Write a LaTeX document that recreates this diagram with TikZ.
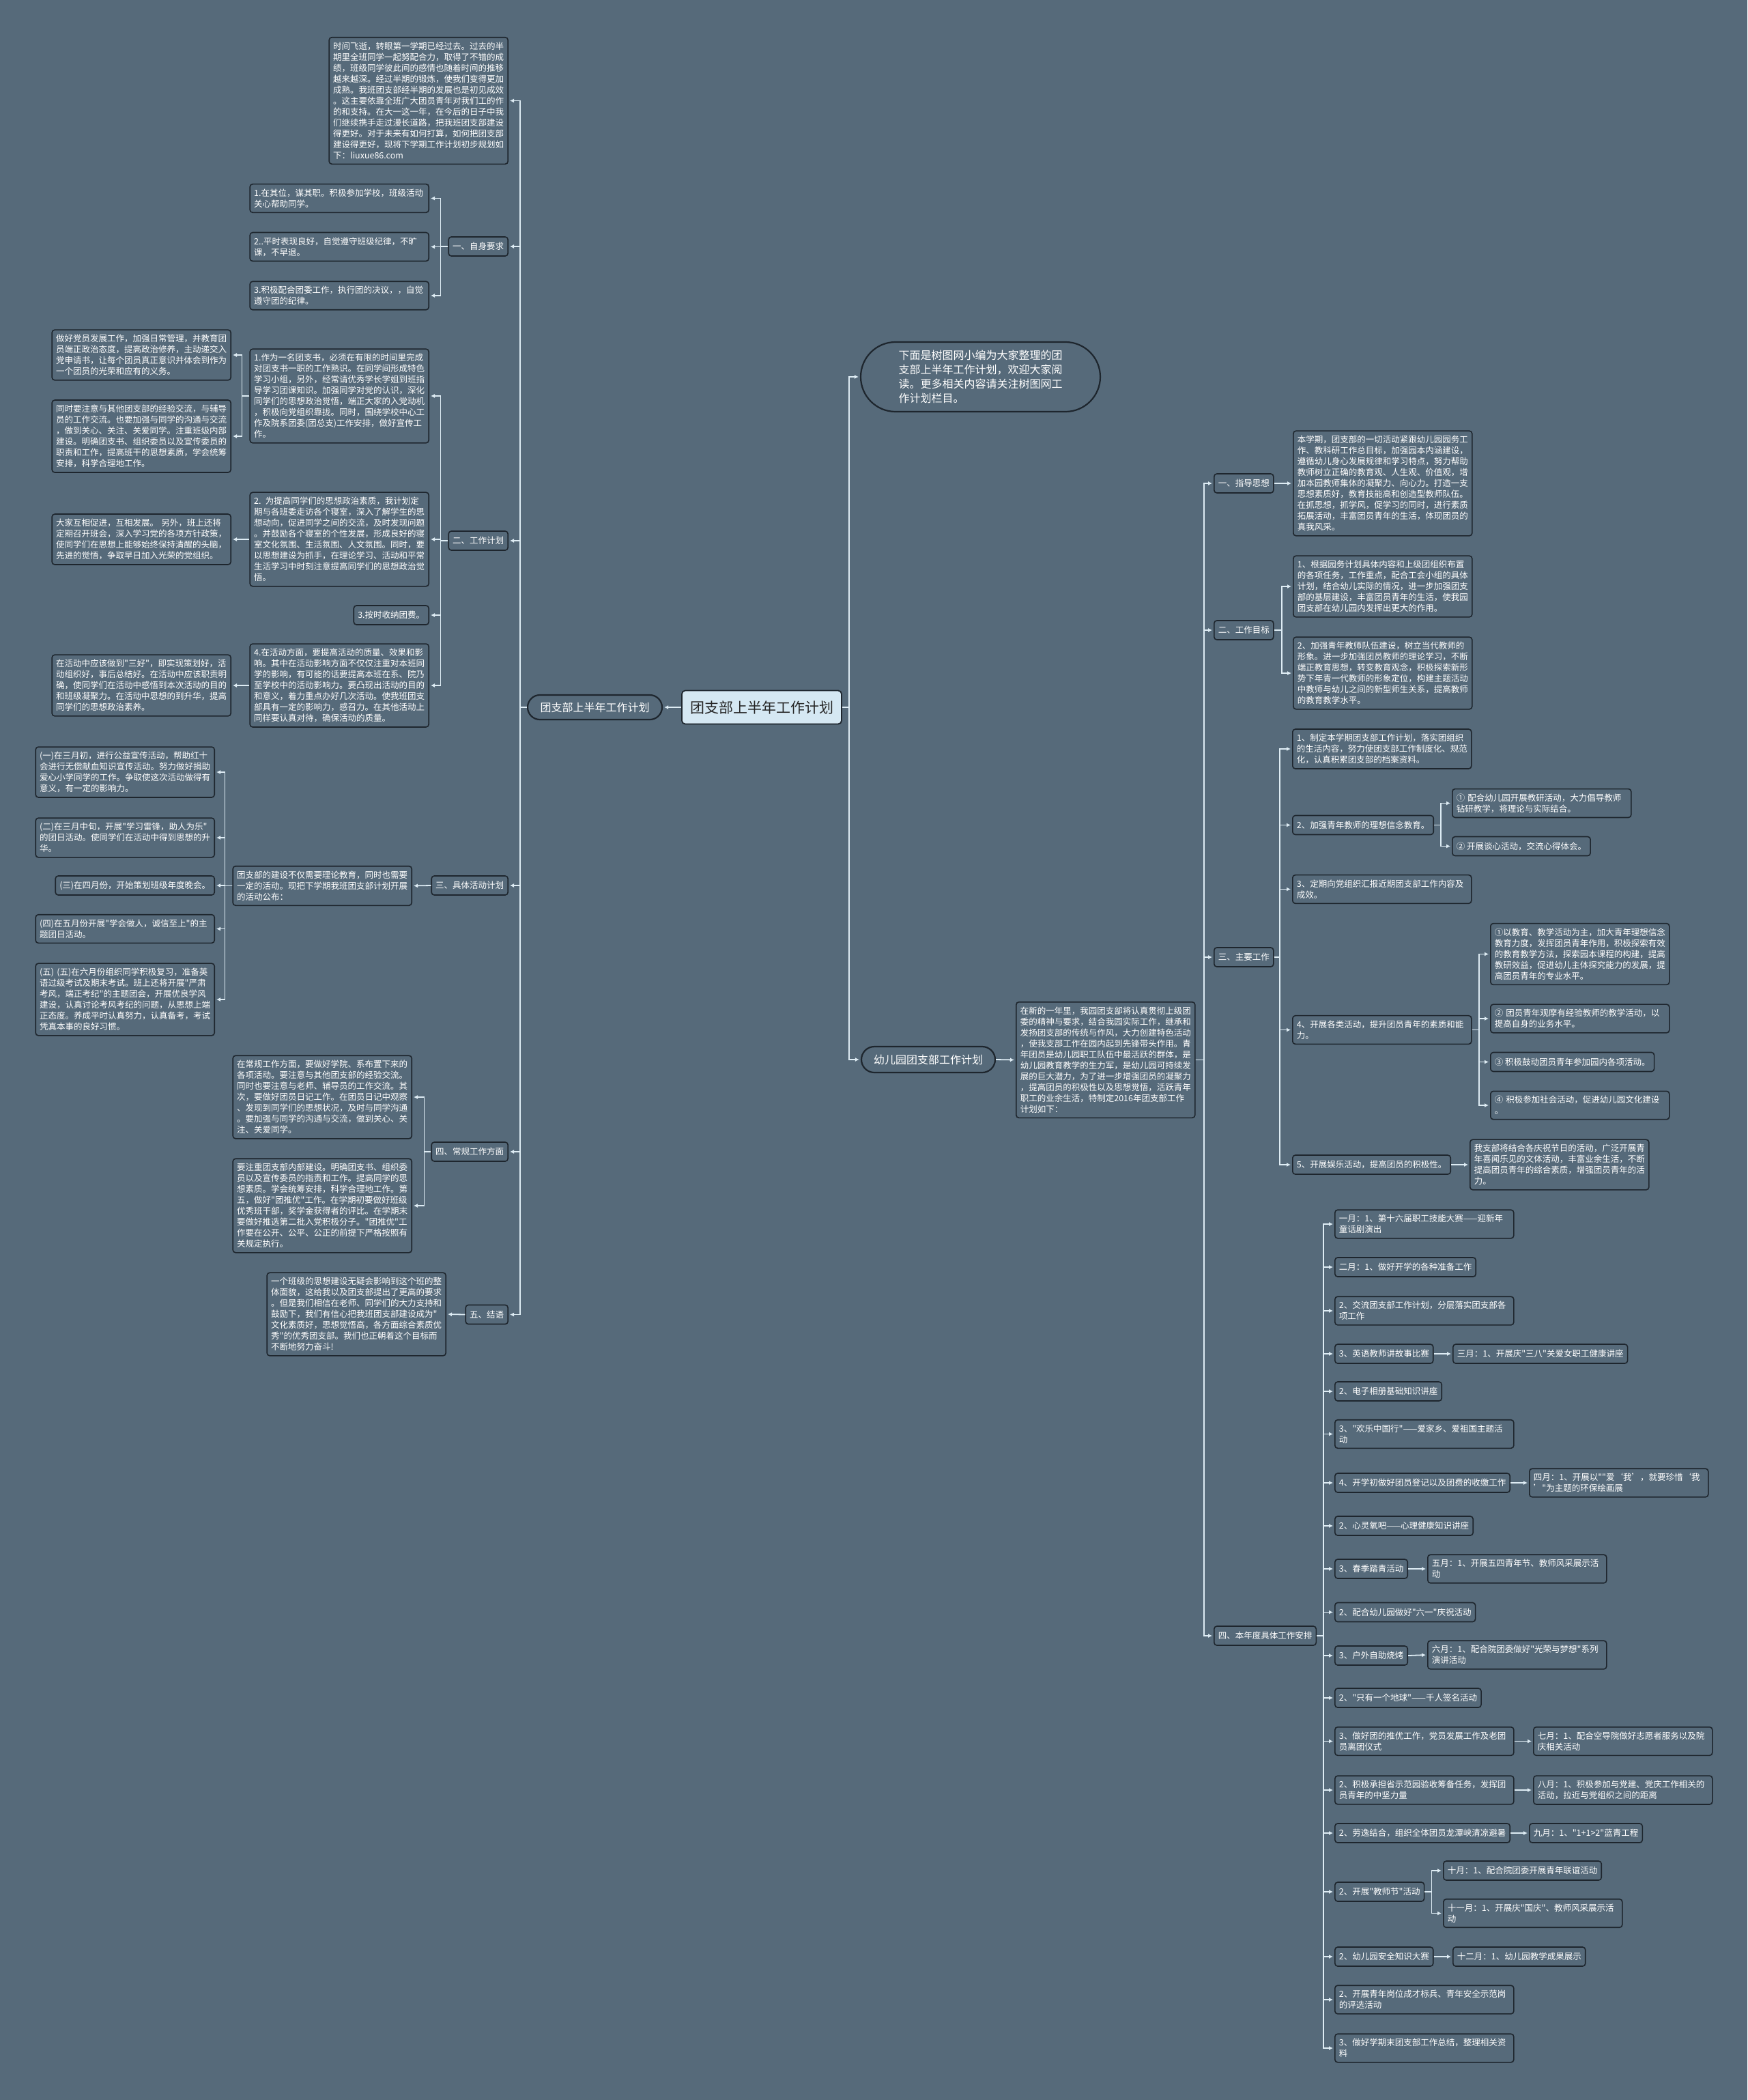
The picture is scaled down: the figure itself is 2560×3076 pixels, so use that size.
\documentclass[tikz,border=0pt]{standalone}
\usepackage{fontspec}
\newfontfamily\cjk{Noto Sans CJK SC}
\usepackage{xcolor}
\usepackage{tikz}
\usetikzlibrary{arrows.meta}

\definecolor{bgc}{RGB}{86,106,122}
\definecolor{edgec}{RGB}{30,38,46}
\definecolor{linkc}{RGB}{222,236,244}
\definecolor{rootc}{RGB}{213,232,243}

\begin{document}
\begin{tikzpicture}[
    x=1pt, y=-1pt,
    box/.style={rectangle, draw=edgec, line width=1.6pt, fill=bgc, rounded corners=4pt, text=white, font=\cjk\fontsize{12.5}{16}\selectfont, inner xsep=6pt, inner ysep=7pt},
    item/.style={box, minimum height=28pt},
    para/.style={box, text width=250pt, align=left},
    pill/.style={rectangle, draw=edgec, line width=2.2pt, fill=bgc, text=white, font=\cjk\fontsize{16}{21}\selectfont},
    root/.style={rectangle, draw=edgec, line width=1.8pt, fill=rootc, text=black!85, rounded corners=5pt, font=\cjk\fontsize{21}{25}\selectfont, minimum width=234pt, minimum height=49pt},
    arrow/.style={-{Latex[length=6pt,width=6pt]}, draw=linkc, line width=1.8pt, shorten >=2pt}
]
    \fill[bgc] (0,0) rectangle (2560,3076);
    \useasboundingbox (0,0) rectangle (2560,3076);

    % Raiz
    \node[root] (root) at (1116,1036) {团支部上半年工作计划};
    \node[pill, minimum width=197pt, minimum height=36pt, rounded corners=18pt] (left) at (871.5,1036) {团支部上半年工作计划};

    % Izquierda
    \node[para, anchor=east] (lintro) at (745,147.5) {时间飞逝，转眼第一学期已经过去。过去的半\\期里全班同学一起努配合力，取得了不错的成\\绩，班级同学彼此间的感情也随着时间的推移\\越来越深。经过半期的锻炼，使我们变得更加\\成熟。我班团支部经半期的发展也是初见成效\\。这主要依靠全班广大团员青年对我们工的作\\的和支持。在大一这一年，在今后的日子中我\\们继续携手走过漫长道路，把我班团支部建设\\得更好。对于未来有如何打算，如何把团支部\\建设得更好，现将下学期工作计划初步规划如\\下：liuxue86.com};

    \node[item, anchor=east] (req) at (745,361) {一、自身要求};
    \node[para, anchor=east] (req1) at (629,290.5) {1.在其位，谋其职。积极参加学校，班级活动\\关心帮助同学。};
    \node[para, anchor=east] (req2) at (629,361.5) {2..平时表现良好，自觉遵守班级纪律，不旷\\课，不早退。};
    \node[para, anchor=east] (req3) at (629,433) {3.积极配合团委工作，执行团的决议，，自觉\\遵守团的纪律。};

    \node[item, anchor=east] (plan) at (745,792) {二、工作计划};
    \node[para, anchor=east] (plan1) at (629,580) {1.作为一名团支书，必须在有限的时间里完成\\对团支书一职的工作熟识。在同学间形成特色\\学习小组，另外，经常请优秀学长学姐到班指\\导学习团课知识。加强同学对党的认识，深化\\同学们的思想政治觉悟，端正大家的入党动机\\，积极向党组织靠拢。同时，围绕学校中心工\\作及院系团委(团总支)工作安排，做好宣传工\\作。};
    \node[para, anchor=east] (plan2) at (629,790) {2. 为提高同学们的思想政治素质，我计划定\\期与各班委走访各个寝室，深入了解学生的思\\想动向，促进同学之间的交流，及时发现问题\\。并鼓励各个寝室的个性发展，形成良好的寝\\室文化氛围、生活氛围、人文氛围。同时，要\\以思想建设为抓手，在理论学习、活动和平常\\生活学习中时刻注意提高同学们的思想政治觉\\悟。};
    \node[item, anchor=east] (plan3) at (629,901) {3.按时收纳团费。};
    \node[para, anchor=east] (plan4) at (629,1004) {4.在活动方面，要提高活动的质量、效果和影\\响。其中在活动影响方面不仅仅注重对本班同\\学的影响，有可能的话要提高本班在系、院乃\\至学校中的活动影响力。要凸现出活动的目的\\和意义，着力重点办好几次活动。使我班团支\\部具有一定的影响力，感召力。在其他活动上\\同样要认真对待，确保活动的质量。};
    \node[para, anchor=east] (plan1a) at (339,520) {做好党员发展工作，加强日常管理，并教育团\\员端正政治态度，提高政治修养，主动递交入\\党申请书，让每个团员真正意识并体会到作为\\一个团员的光荣和应有的义务。};
    \node[para, anchor=east] (plan1b) at (339,639) {同时要注意与其他团支部的经验交流，与辅导\\员的工作交流。也要加强与同学的沟通与交流\\，做到关心、关注、关爱同学。注重班级内部\\建设。明确团支书、组织委员以及宣传委员的\\职责和工作，提高班干的思想素质，学会统筹\\安排，科学合理地工作。};
    \node[para, anchor=east] (plan2a) at (339,790) {大家互相促进，互相发展。 另外，班上还将\\定期召开班会，深入学习党的各项方针政策，\\使同学们在思想上能够始终保持清醒的头脑，\\先进的觉悟，争取早日加入光荣的党组织。};
    \node[para, anchor=east] (plan4a) at (339,1004) {在活动中应该做到"三好"，即实现策划好，活\\动组织好，事后总结好。在活动中应该职责明\\确，使同学们在活动中感悟到本次活动的目的\\和班级凝聚力。在活动中思想的到升华，提高\\同学们的思想政治素养。};

    \node[item, anchor=east] (act) at (745,1297) {三、具体活动计划};
    \node[para, anchor=east] (actm) at (604,1297.5) {团支部的建设不仅需要理论教育，同时也需要\\一定的活动。现把下学期我班团支部计划开展\\的活动公布：};
    \node[para, anchor=east] (act1) at (315,1131) {(一)在三月初，进行公益宣传活动，帮助红十\\会进行无偿献血知识宣传活动。努力做好捐助\\爱心小学同学的工作。争取使这次活动做得有\\意义，有一定的影响力。};
    \node[para, anchor=east] (act2) at (315,1227) {(二)在三月中旬，开展"学习雷锋，助人为乐"\\的团日活动。使同学们在活动中得到思想的升\\华。};
    \node[item, anchor=east] (act3) at (315,1297) {(三)在四月份，开始策划班级年度晚会。};
    \node[para, anchor=east] (act4) at (315,1360.5) {(四)在五月份开展"学会做人，诚信至上"的主\\题团日活动。};
    \node[para, anchor=east] (act5) at (315,1464) {(五) (五)在六月份组织同学积极复习，准备英\\语过级考试及期末考试。班上还将开展"严肃\\考风，端正考纪"的主题团会，开展优良学风\\建设，认真讨论考风考纪的问题，从思想上端\\正态度。养成平时认真努力，认真备考，考试\\凭真本事的良好习惯。};

    \node[item, anchor=east] (rout) at (745,1687) {四、常规工作方面};
    \node[para, anchor=east] (rout1) at (604,1607) {在常规工作方面，要做好学院、系布置下来的\\各项活动。要注意与其他团支部的经验交流。\\同时也要注意与老师、辅导员的工作交流。其\\次，要做好团员日记工作。在团员日记中观察\\、发现到同学们的思想状况，及时与同学沟通\\。要加强与同学的沟通与交流，做到关心、关\\注、关爱同学。};
    \node[para, anchor=east] (rout2) at (604,1766) {要注重团支部内部建设。明确团支书、组织委\\员以及宣传委员的指责和工作。提高同学的思\\想素质。学会统筹安排，科学合理地工作。第\\五，做好"团推优"工作。在学期初要做好班级\\优秀班干部，奖学金获得者的评比。在学期末\\要做好推选第二批入党积极分子。"团推优"工\\作要在公开、公平、公正的前提下严格按照有\\关规定执行。};

    \node[item, anchor=east] (conc) at (745,1925.5) {五、结语};
    \node[para, anchor=east] (conc1) at (654,1925) {一个班级的思想建设无疑会影响到这个班的整\\体面貌，这给我以及团支部提出了更高的要求\\。但是我们相信在老师、同学们的大力支持和\\鼓励下，我们有信心把我班团支部建设成为"\\文化素质好，思想觉悟高，各方面综合素质优\\秀"的优秀团支部。我们也正朝着这个目标而\\不断地努力奋斗!};

    % Derecha
    \node[pill, minimum width=351pt, minimum height=102pt, rounded corners=51pt, align=left] (rintro) at (1436.5,552) {下面是树图网小编为大家整理的团\\支部上半年工作计划，欢迎大家阅\\读。更多相关内容请关注树图网工\\作计划栏目。};
    \node[pill, minimum width=196pt, minimum height=38pt, rounded corners=19pt] (kpill) at (1360,1552) {幼儿园团支部工作计划};
    \node[para, anchor=west] (desc) at (1488,1552.5) {在新的一年里，我园团支部将认真贯彻上级团\\委的精神与要求，结合我园实际工作，继承和\\发扬团支部的传统与作风，大力创建特色活动\\，使我支部工作在园内起到先锋带头作用。青\\年团员是幼儿园职工队伍中最活跃的群体，是\\幼儿园教育教学的生力军，是幼儿园可持续发\\展的巨大潜力，为了进一步增强团员的凝聚力\\，提高团员的积极性以及思想觉悟，活跃青年\\职工的业余生活，特制定2016年团支部工作\\计划如下：};

    \node[item, anchor=west] (guide) at (1778,708) {一、指导思想};
    \node[para, anchor=west] (guide1) at (1894,708) {本学期，团支部的一切活动紧跟幼儿园园务工\\作、教科研工作总目标，加强园本内涵建设，\\遵循幼儿身心发展规律和学习特点，努力帮助\\教师树立正确的教育观、人生观、价值观，增\\加本园教师集体的凝聚力、向心力。打造一支\\思想素质好，教育技能高和创造型教师队伍。\\在抓思想，抓学风，促学习的同时，进行素质\\拓展活动，丰富团员青年的生活，体现团员的\\真我风采。};

    \node[item, anchor=west] (goal) at (1778,923) {二、工作目标};
    \node[para, anchor=west] (goal1) at (1894,859) {1、根据园务计划具体内容和上级团组织布置\\的各项任务，工作重点，配合工会小组的具体\\计划，结合幼儿实际的情况，进一步加强团支\\部的基层建设，丰富团员青年的生活，使我园\\团支部在幼儿园内发挥出更大的作用。};
    \node[para, anchor=west] (goal2) at (1894,986) {2、加强青年教师队伍建设，树立当代教师的\\形象。进一步加强团员教师的理论学习，不断\\端正教育思想，转变教育观念，积极探索新形\\势下年青一代教师的形象定位，构建主题活动\\中教师与幼儿之间的新型师生关系，提高教师\\的教育教学水平。};

    \node[item, anchor=west] (work) at (1778,1402) {三、主要工作};
    \node[para, anchor=west] (work1) at (1893,1097) {1、制定本学期团支部工作计划，落实团组织\\的生活内容，努力使团支部工作制度化、规范\\化，认真积累团支部的档案资料。};
    \node[item, anchor=west] (work2) at (1893,1208.5) {2、加强青年教师的理想信念教育。};
    \node[para, anchor=west] (work2a) at (2127,1176.5) {① 配合幼儿园开展教研活动，大力倡导教师\\钻研教学，将理论与实际结合。};
    \node[item, anchor=west] (work2b) at (2127,1239.5) {② 开展谈心活动，交流心得体会。};
    \node[para, anchor=west] (work3) at (1893,1302.5) {3、定期向党组织汇报近期团支部工作内容及\\成效。};
    \node[para, anchor=west] (work4) at (1893,1508.5) {4、开展各类活动，提升团员青年的素质和能\\力。};
    \node[para, anchor=west] (work4a) at (2183,1397.5) {①以教育、教学活动为主，加大青年理想信念\\教育力度，发挥团员青年作用，积极探索有效\\的教育教学方法，探索园本课程的构建，提高\\教研效益，促进幼儿主体探究能力的发展，提\\高团员青年的专业水平。};
    \node[para, anchor=west] (work4b) at (2183,1492) {② 团员青年观摩有经验教师的教学活动，以\\提高自身的业务水平。};
    \node[item, anchor=west] (work4c) at (2183,1555.5) {③ 积极鼓动团员青年参加园内各项活动。};
    \node[para, anchor=west] (work4d) at (2183,1619) {④ 积极参加社会活动，促进幼儿园文化建设\\。};
    \node[item, anchor=west] (work5) at (1893,1706) {5、开展娱乐活动，提高团员的积极性。};
    \node[para, anchor=west] (work5a) at (2153,1706) {我支部将结合各庆祝节日的活动，广泛开展青\\年喜闻乐见的文体活动，丰富业余生活，不断\\提高团员青年的综合素质，增强团员青年的活\\力。};

    \node[item, anchor=west] (year) at (1778,2396) {四、本年度具体工作安排};
    \node[para, anchor=west] (mo1) at (1955,1793) {一月：1、第十六届职工技能大赛——迎新年\\童话剧演出};
    \node[item, anchor=west] (mo2) at (1955,1856) {二月：1、做好开学的各种准备工作};
    \node[para, anchor=west] (mo3) at (1955,1920) {2、交流团支部工作计划，分层落实团支部各\\项工作};
    \node[item, anchor=west] (mo4) at (1955,1983) {3、英语教师讲故事比赛};
    \node[item, anchor=west] (mar) at (2128,1983) {三月：1、开展庆"三八"关爱女职工健康讲座};
    \node[item, anchor=west] (mo5) at (1955,2038) {2、电子相册基础知识讲座};
    \node[para, anchor=west] (mo6) at (1955,2100.5) {3、"欢乐中国行"——爱家乡、爱祖国主题活\\动};
    \node[item, anchor=west] (mo7) at (1955,2172) {4、开学初做好团员登记以及团费的收缴工作};
    \node[para, anchor=west] (apr) at (2240,2172) {四月：1、开展以""爱‘我’，就要珍惜‘我\\’"为主题的环保绘画展};
    \node[item, anchor=west] (mo8) at (1955,2235) {2、心灵氧吧——心理健康知识讲座};
    \node[item, anchor=west] (mo9) at (1955,2298) {3、春季踏青活动};
    \node[para, anchor=west] (may) at (2091,2298) {五月：1、开展五四青年节、教师风采展示活\\动};
    \node[item, anchor=west] (mo10) at (1955,2361.5) {2、配合幼儿园做好"六一"庆祝活动};
    \node[item, anchor=west] (mo11) at (1955,2425) {3、户外自助烧烤};
    \node[para, anchor=west] (jun) at (2091,2424) {六月：1、配合院团委做好"光荣与梦想"系列\\演讲活动};
    \node[item, anchor=west] (mo12) at (1955,2487) {2、"只有一个地球"——千人签名活动};
    \node[para, anchor=west] (mo13) at (1955,2550.5) {3、做好团的推优工作，党员发展工作及老团\\员离团仪式};
    \node[para, anchor=west] (jul) at (2246,2550.5) {七月：1、配合空导院做好志愿者服务以及院\\庆相关活动};
    \node[para, anchor=west] (mo14) at (1955,2622) {2、积极承担省示范园验收筹备任务，发挥团\\员青年的中坚力量};
    \node[para, anchor=west] (aug) at (2246,2622) {八月：1、积极参加与党建、党庆工作相关的\\活动，拉近与党组织之间的距离};
    \node[item, anchor=west] (mo15) at (1955,2685) {2、劳逸结合，组织全体团员龙潭峡清凉避暑};
    \node[item, anchor=west] (sep) at (2240,2685) {九月：1、"1+1>2"蓝青工程};
    \node[item, anchor=west] (mo16) at (1955,2771) {2、开展"教师节"活动};
    \node[item, anchor=west] (oct) at (2114,2740) {十月：1、配合院团委开展青年联谊活动};
    \node[para, anchor=west] (nov) at (2114,2802.5) {十一月：1、开展庆"国庆"、教师风采展示活\\动};
    \node[item, anchor=west] (mo17) at (1955,2866) {2、幼儿园安全知识大赛};
    \node[item, anchor=west] (dec) at (2128,2866) {十二月：1、幼儿园教学成果展示};
    \node[para, anchor=west] (mo18) at (1955,2929) {2、开展青年岗位成才标兵、青年安全示范岗\\的评选活动};
    \node[para, anchor=west] (mo19) at (1955,3000) {3、做好学期末团支部工作总结，整理相关资\\料};

    % Flechas izquierda
    \draw[arrow] (root.west) -- (left.east);
    \draw[arrow] (left.west) -- ++(-10,0) |- (lintro.east);
    \draw[arrow] (left.west) -- ++(-10,0) |- (req.east);
    \draw[arrow] (left.west) -- ++(-10,0) |- (plan.east);
    \draw[arrow] (left.west) -- ++(-10,0) |- (act.east);
    \draw[arrow] (left.west) -- ++(-10,0) |- (rout.east);
    \draw[arrow] (left.west) -- ++(-10,0) |- (conc.east);
    \draw[arrow] (req.west) -- ++(-11,0) |- (req1.east);
    \draw[arrow] (req.west) -- ++(-11,0) |- (req2.east);
    \draw[arrow] (req.west) -- ++(-11,0) |- (req3.east);
    \draw[arrow] (plan.west) -- ++(-11,0) |- (plan1.east);
    \draw[arrow] (plan.west) -- ++(-11,0) |- (plan2.east);
    \draw[arrow] (plan.west) -- ++(-11,0) |- (plan3.east);
    \draw[arrow] (plan.west) -- ++(-11,0) |- (plan4.east);
    \draw[arrow] (plan1.west) -- ++(-11,0) |- (plan1a.east);
    \draw[arrow] (plan1.west) -- ++(-11,0) |- (plan1b.east);
    \draw[arrow] (plan2.west) -- (plan2a.east);
    \draw[arrow] (plan4.west) -- (plan4a.east);
    \draw[arrow] (act.west) -- (actm.east);
    \draw[arrow] (actm.west) -- ++(-11,0) |- (act1.east);
    \draw[arrow] (actm.west) -- ++(-11,0) |- (act2.east);
    \draw[arrow] (actm.west) -- ++(-11,0) |- (act3.east);
    \draw[arrow] (actm.west) -- ++(-11,0) |- (act4.east);
    \draw[arrow] (actm.west) -- ++(-11,0) |- (act5.east);
    \draw[arrow] (rout.west) -- ++(-10,0) |- (rout1.east);
    \draw[arrow] (rout.west) -- ++(-10,0) |- (rout2.east);
    \draw[arrow] (conc.west) -- (conc1.east);

    % Flechas derecha
    \draw[arrow] (root.east) -- ++(10,0) |- (rintro.west);
    \draw[arrow] (root.east) -- ++(10,0) |- (kpill.west);
    \draw[arrow] (kpill.east) -- (desc.west);
    \draw[arrow] (desc.east) -- ++(12,0) |- (guide.west);
    \draw[arrow] (desc.east) -- ++(12,0) |- (goal.west);
    \draw[arrow] (desc.east) -- ++(12,0) |- (work.west);
    \draw[arrow] (desc.east) -- ++(12,0) |- (year.west);
    \draw[arrow] (guide.east) -- (guide1.west);
    \draw[arrow] (goal.east) -- ++(11,0) |- (goal1.west);
    \draw[arrow] (goal.east) -- ++(11,0) |- (goal2.west);
    \draw[arrow] (work.east) -- ++(8,0) |- (work1.west);
    \draw[arrow] (work.east) -- ++(8,0) |- (work2.west);
    \draw[arrow] (work.east) -- ++(8,0) |- (work3.west);
    \draw[arrow] (work.east) -- ++(8,0) |- (work4.west);
    \draw[arrow] (work.east) -- ++(8,0) |- (work5.west);
    \draw[arrow] (work2.east) -- ++(10,0) |- (work2a.west);
    \draw[arrow] (work2.east) -- ++(10,0) |- (work2b.west);
    \draw[arrow] (work4.east) -- ++(10,0) |- (work4a.west);
    \draw[arrow] (work4.east) -- ++(10,0) |- (work4b.west);
    \draw[arrow] (work4.east) -- ++(10,0) |- (work4c.west);
    \draw[arrow] (work4.east) -- ++(10,0) |- (work4d.west);
    \draw[arrow] (work5.east) -- (work5a.west);
    \draw[arrow] (year.east) -- ++(10,0) |- (mo1.west);
    \draw[arrow] (year.east) -- ++(10,0) |- (mo2.west);
    \draw[arrow] (year.east) -- ++(10,0) |- (mo3.west);
    \draw[arrow] (year.east) -- ++(10,0) |- (mo4.west);
    \draw[arrow] (year.east) -- ++(10,0) |- (mo5.west);
    \draw[arrow] (year.east) -- ++(10,0) |- (mo6.west);
    \draw[arrow] (year.east) -- ++(10,0) |- (mo7.west);
    \draw[arrow] (year.east) -- ++(10,0) |- (mo8.west);
    \draw[arrow] (year.east) -- ++(10,0) |- (mo9.west);
    \draw[arrow] (year.east) -- ++(10,0) |- (mo10.west);
    \draw[arrow] (year.east) -- ++(10,0) |- (mo11.west);
    \draw[arrow] (year.east) -- ++(10,0) |- (mo12.west);
    \draw[arrow] (year.east) -- ++(10,0) |- (mo13.west);
    \draw[arrow] (year.east) -- ++(10,0) |- (mo14.west);
    \draw[arrow] (year.east) -- ++(10,0) |- (mo15.west);
    \draw[arrow] (year.east) -- ++(10,0) |- (mo16.west);
    \draw[arrow] (year.east) -- ++(10,0) |- (mo17.west);
    \draw[arrow] (year.east) -- ++(10,0) |- (mo18.west);
    \draw[arrow] (year.east) -- ++(10,0) |- (mo19.west);
    \draw[arrow] (mo4.east) -- (mar.west);
    \draw[arrow] (mo7.east) -- (apr.west);
    \draw[arrow] (mo9.east) -- (may.west);
    \draw[arrow] (mo11.east) -- (jun.west);
    \draw[arrow] (mo13.east) -- (jul.west);
    \draw[arrow] (mo14.east) -- (aug.west);
    \draw[arrow] (mo15.east) -- (sep.west);
    \draw[arrow] (mo16.east) -- ++(10,0) |- (oct.west);
    \draw[arrow] (mo16.east) -- ++(10,0) |- (nov.west);
    \draw[arrow] (mo17.east) -- (dec.west);
\end{tikzpicture}
\end{document}
